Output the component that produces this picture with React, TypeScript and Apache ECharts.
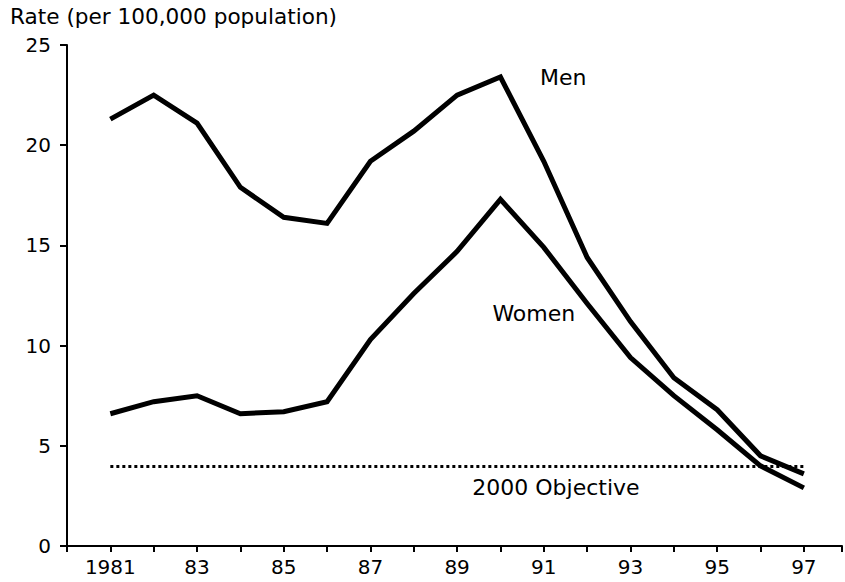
import React, { useEffect, useRef } from "react";
import * as echarts from "echarts";

const years = [1981, 1982, 1983, 1984, 1985, 1986, 1987, 1988, 1989, 1990, 1991, 1992, 1993, 1994, 1995, 1996, 1997];
const men = [21.3, 22.5, 21.1, 17.9, 16.4, 16.1, 19.2, 20.7, 22.5, 23.4, 19.2, 14.4, 11.2, 8.4, 6.8, 4.5, 3.6];
const women = [6.6, 7.2, 7.5, 6.6, 6.7, 7.2, 10.3, 12.6, 14.7, 17.3, 14.9, 12.1, 9.4, 7.5, 5.8, 4.0, 2.9];
const objective = 4;
const yTicks = [0, 5, 10, 15, 20, 25];

const FONT = "DejaVu Sans";

export default function App() {
  const ref = useRef<HTMLDivElement>(null);
  useEffect(() => {
    if (!ref.current) return;
    const chart = echarts.init(ref.current, undefined, { renderer: "svg" });
    const lineStyle = { color: "#000", width: 5, join: "miter" as const, cap: "butt" as const };
    const hiddenPt = { symbol: "rect", symbolSize: 1, itemStyle: { color: "transparent" } };
    const lbl = (text: string) => ({
      show: true,
      position: "inside",
      formatter: text,
      color: "#000",
      fontFamily: FONT,
      fontSize: 22,
    });
    chart.setOption({
      animation: false,
      backgroundColor: "#fff",
      title: {
        text: "Rate (per 100,000 population)",
        left: 10,
        top: 5,
        padding: 0,
        textStyle: { fontFamily: FONT, fontSize: 21.6, fontWeight: "normal", color: "#000" },
      },
      grid: { left: 67, right: 0, top: 45, bottom: 36, containLabel: false },
      xAxis: {
        type: "value",
        min: 1980,
        max: 1997.88,
        interval: 1,
        axisLine: { lineStyle: { color: "#000", width: 2 } },
        axisTick: { show: true, inside: false, length: 6, lineStyle: { color: "#000", width: 2 } },
        splitLine: { show: false },
        axisLabel: {
          margin: 11,
          color: "#000",
          fontFamily: FONT,
          fontSize: 20,
          formatter: (v: number) => {
            if (!years.includes(v)) return "";
            if (v === years[0]) return String(v);
            if ((v - years[0]) % 2 !== 0) return "";
            return String(v).slice(2);
          },
        },
      },
      yAxis: {
        type: "value",
        min: yTicks[0],
        max: yTicks[yTicks.length - 1],
        interval: 5,
        axisLine: { show: true, lineStyle: { color: "#000", width: 2 } },
        axisTick: { show: true, inside: false, length: 7, lineStyle: { color: "#000", width: 2 } },
        splitLine: { show: false },
        axisLabel: { margin: 16, color: "#000", fontFamily: FONT, fontSize: 20 },
      },
      series: [
        {
          name: "Men",
          type: "line",
          data: years.map((y, i) => [y, men[i]]),
          showSymbol: false,
          symbol: "none",
          lineStyle,
          markPoint: {
            ...hiddenPt,
            data: [{ coord: [1991.45, 23.4], label: lbl("Men") }],
          },
        },
        {
          name: "Women",
          type: "line",
          data: years.map((y, i) => [y, women[i]]),
          showSymbol: false,
          symbol: "none",
          lineStyle,
          markPoint: {
            ...hiddenPt,
            data: [
              { coord: [1990.77, 11.6], label: lbl("Women") },
              { coord: [1991.28, 2.94], label: lbl("2000 Objective") },
            ],
          },
          markLine: {
            silent: true,
            symbol: ["none", "none"],
            label: { show: false },
            lineStyle: { color: "#000", width: 3, type: [3, 3] },
            data: [[{ coord: [years[0], objective] }, { coord: [years[years.length - 1], objective] }]],
          },
        },
      ],
    });
    return () => chart.dispose();
  }, []);
  return <div ref={ref} style={{ width: 845, height: 582, position: "absolute", left: 0, top: 0 }} />;
}
